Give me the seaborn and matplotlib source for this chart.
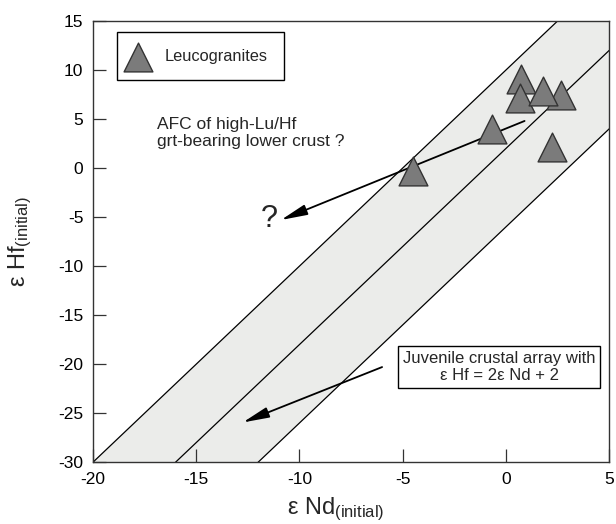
import numpy as np
import pandas as pd
import matplotlib
matplotlib.use("Agg")
import matplotlib.pyplot as plt
import seaborn as sns

# ---- data ----
nd_initial = [-4.5, -0.7, 0.75, 0.7, 2.65, 1.8, 2.25]
hf_initial = [-0.3, 4.0, 9.1, 7.1, 7.4, 7.9, 2.1]
series_label = "Leucogranites"

# juvenile crustal array eHf = 2 eNd + 2 with envelope
array_slope = 2.0
array_intercept = 2.0
envelope_offset = 8.0

x_ticks = [-20, -15, -10, -5, 0, 5]
y_ticks = [-30, -25, -20, -15, -10, -5, 0, 5, 10, 15]

afc_arrow_start = (0.9, 4.8)
afc_arrow_end = (-10.9, -5.3)
juv_arrow_start = (-6.0, -20.3)
juv_arrow_end = (-12.75, -25.95)

sns.set_style("ticks")
plt.rcParams["font.family"] = ["Liberation Sans", "DejaVu Sans"]
plt.rcParams["mathtext.fontset"] = "custom"
plt.rcParams["mathtext.rm"] = "Liberation Sans"
plt.rcParams["mathtext.it"] = "Liberation Sans:italic"
plt.rcParams["axes.unicode_minus"] = False

fig = plt.figure(figsize=(6.16, 5.24), dpi=100)
ax = fig.add_axes([0.151, 0.118, 0.838, 0.842])

xs = np.array([x_ticks[0], x_ticks[-1]], dtype=float)
center = array_slope * xs + array_intercept
upper = center + envelope_offset
lower = center - envelope_offset
ax.fill_between(xs, lower, upper, color="#ebecea", zorder=0, lw=0)
for yy in (upper, center, lower):
    sns.lineplot(x=xs, y=yy, ax=ax, color="black", lw=0.9, zorder=1)

# arrows
arrow_kw = dict(arrowstyle="-|>,head_length=1.0,head_width=0.2",
                mutation_scale=16, lw=1.3, color="black",
                shrinkA=0, shrinkB=0)
ax.annotate("", xy=afc_arrow_end, xytext=afc_arrow_start,
            arrowprops=arrow_kw, zorder=2)
ax.annotate("", xy=juv_arrow_end, xytext=juv_arrow_start,
            arrowprops=arrow_kw, zorder=2)

df = pd.DataFrame({"nd": nd_initial, "hf": hf_initial})
sns.scatterplot(data=df, x="nd", y="hf", marker="^", s=430,
                color="#7b7b7b", edgecolor="#333333", linewidth=1.0,
                label=series_label, ax=ax, zorder=3)

ax.set_xlim(x_ticks[0], x_ticks[-1])
ax.set_ylim(y_ticks[0], y_ticks[-1])
ax.set_xticks(x_ticks)
ax.set_yticks(y_ticks)
ax.tick_params(direction="in", length=9.5, width=0.9, pad=7,
               labelsize=12.5, color="#333333", labelcolor="black")
for sp in ax.spines.values():
    sp.set_visible(True)
    sp.set_color("#333333")
    sp.set_linewidth(1.0)

ax.set_xlabel("ε Nd$_{\\mathrm{(initial)}}$", fontsize=17)
ax.set_ylabel("ε Hf$_{\\mathrm{(initial)}}$", fontsize=17)
ax.xaxis.set_label_coords(0.47, -0.075)
ax.yaxis.set_label_coords(-0.115, 0.5)

leg = ax.legend(loc="upper left", bbox_to_anchor=(0.046, 0.974),
                borderaxespad=0, frameon=True, fancybox=False,
                edgecolor="black", framealpha=1, fontsize=11.8,
                handlelength=0.6, handletextpad=1.3, borderpad=1.0,
                scatterpoints=1)
leg.get_frame().set_linewidth(1.0)

ax.text(-16.9, 5.2, "AFC of high-Lu/Hf\ngrt-bearing lower crust ?",
        fontsize=12.5, ha="left", va="top", linespacing=1.15)
ax.text(-11.45, -5.2, "?", fontsize=22, ha="center", va="center")
ax.text(-0.33, -20.3, "Juvenile crustal array with\nε Hf = 2ε Nd + 2",
        fontsize=12, ha="center", va="center", multialignment="center",
        linespacing=1.1,
        bbox=dict(boxstyle="square,pad=0.3", fc="white", ec="black", lw=1.0))

fig.savefig("out.png", dpi=100)
